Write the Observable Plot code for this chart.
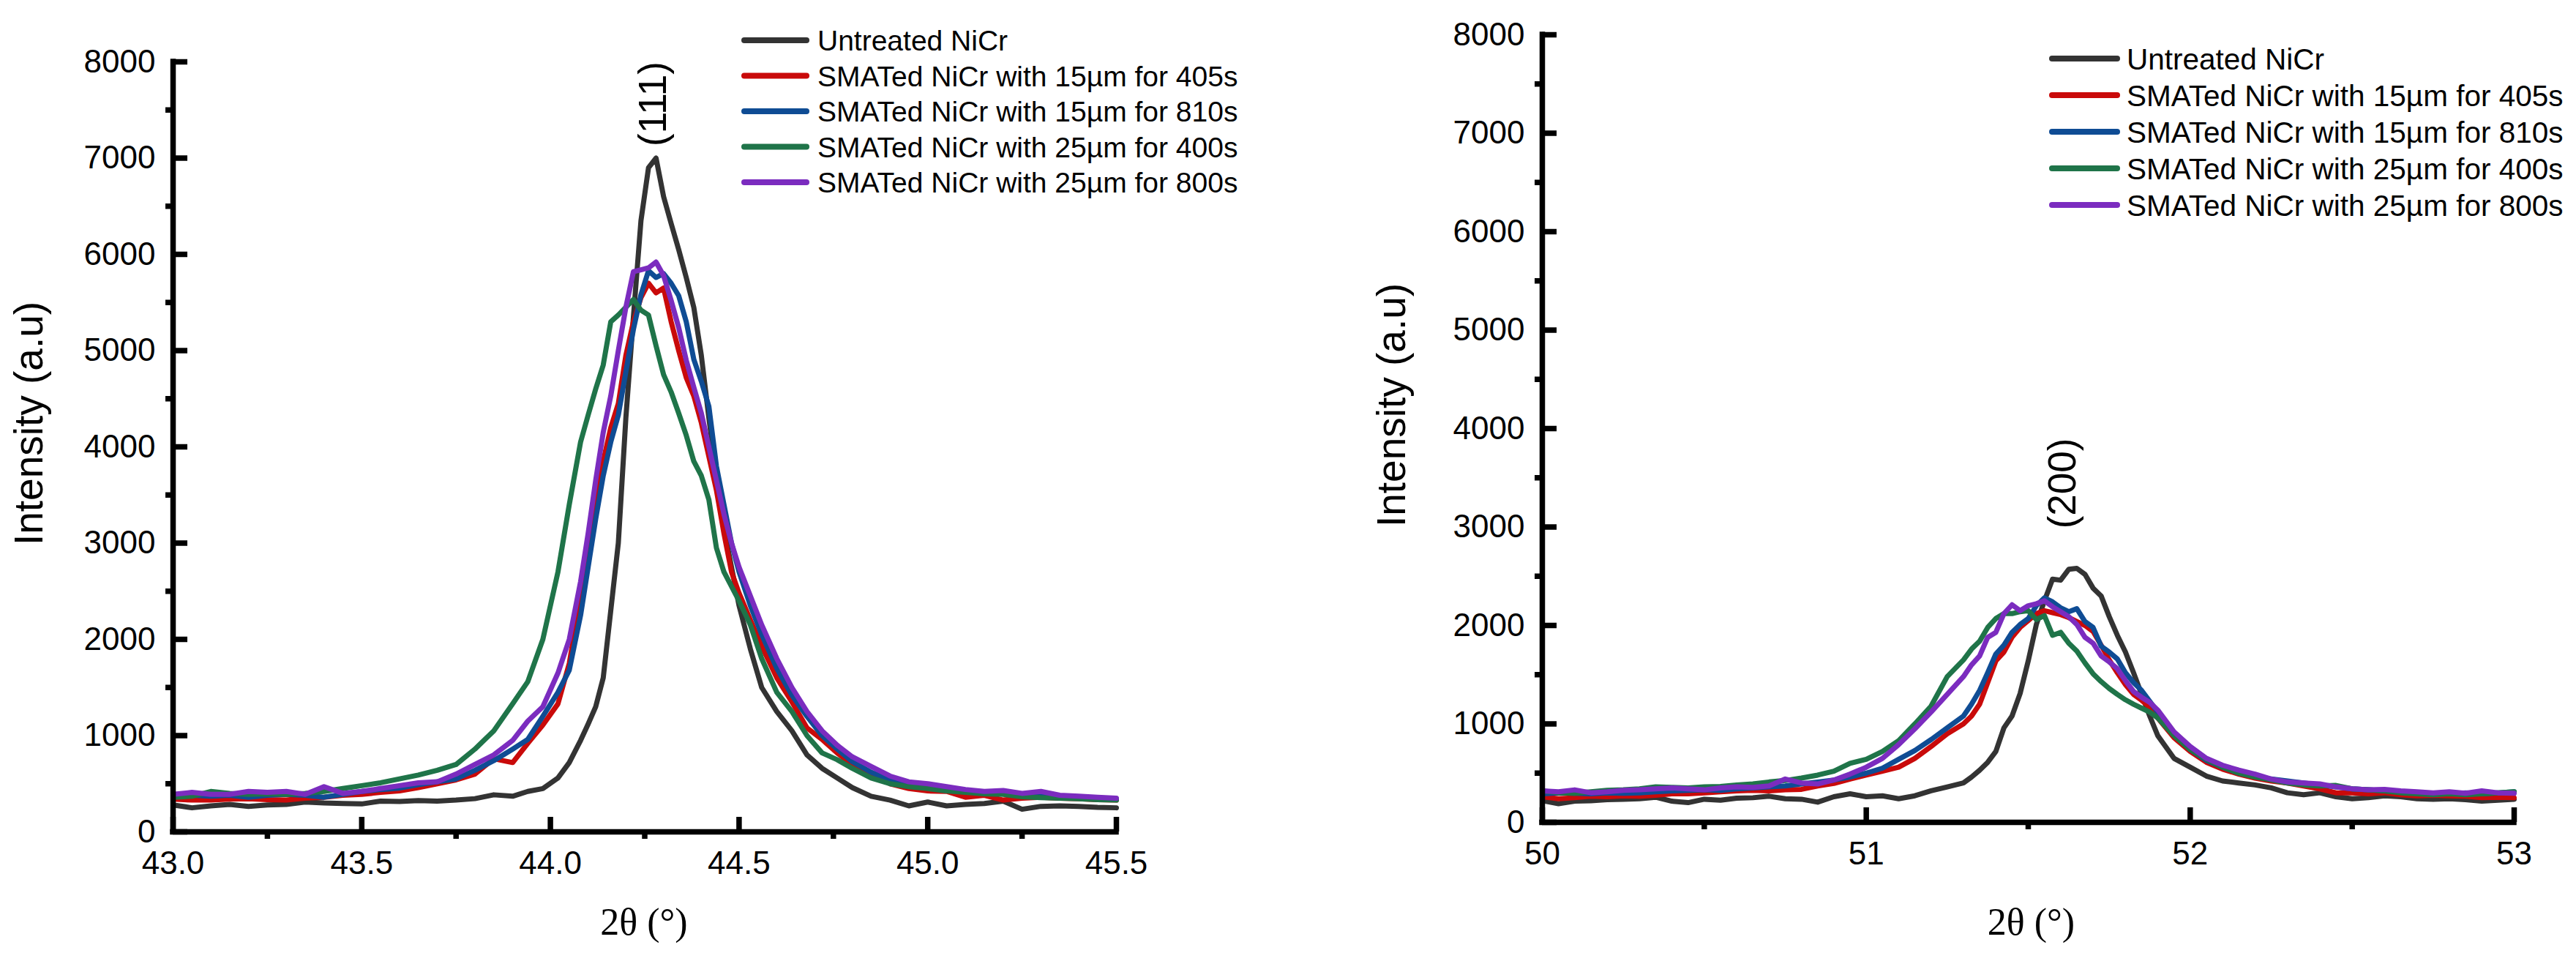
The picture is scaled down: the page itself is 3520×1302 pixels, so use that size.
<!DOCTYPE html>
<html>
<head>
<meta charset="utf-8">
<script src="https://cdn.jsdelivr.net/npm/d3@7"></script>
<script src="https://cdn.jsdelivr.net/npm/@observablehq/plot@0.6"></script>
<style>
html, body { margin: 0; padding: 0; background: #fff; }
#root { position: relative; width: 3520px; height: 1302px; overflow: hidden; background: #fff; }
.panel { position: absolute; top: 0; }
#legend { position: absolute; left: 0; top: 0; pointer-events: none; }
</style>
</head>
<body>
<div id="root"></div>
<script>
// ---------- series ----------
const seriesNames = [
  "Untreated NiCr",
  "SMATed NiCr with 15µm for 405s",
  "SMATed NiCr with 15µm for 810s",
  "SMATed NiCr with 25µm for 400s",
  "SMATed NiCr with 25µm for 800s"
];
const seriesColors = ["#333333", "#c90a0a", "#0f4c94", "#1f7449", "#7b2cbf"];

// ---------- left panel: (111) peak ----------
const leftX = [43.00, 43.05, 43.10, 43.15, 43.20, 43.25, 43.30, 43.35, 43.40, 43.45, 43.50, 43.55, 43.60, 43.65, 43.70, 43.75, 43.80, 43.85, 43.90,
  43.94, 43.98, 44.02, 44.05, 44.08,
  44.10, 44.12, 44.14, 44.16, 44.18, 44.20, 44.22, 44.24, 44.26, 44.28, 44.30, 44.32, 44.34, 44.36, 44.38, 44.40, 44.42, 44.44, 44.46, 44.48, 44.50,
  44.53, 44.56,
  44.60, 44.64, 44.68, 44.72, 44.76, 44.80,
  44.85, 44.90, 44.95, 45.00, 45.05, 45.10, 45.15, 45.20, 45.25, 45.30, 45.35, 45.40, 45.45, 45.50];
const leftUntreated = [280, 250, 270, 285, 265, 280, 285, 310, 300, 295, 290, 320, 315, 325, 320, 330, 345, 385, 370,
  420, 450, 560, 720, 950,
  1120, 1300, 1600, 2300, 3000, 4300, 5350, 6350, 6900, 7000, 6600, 6320, 6050, 5760, 5450, 4950, 4300, 3700, 3150, 2750, 2350,
  1900, 1500,
  1250, 1050, 800, 660, 560, 460,
  370, 330, 270, 310, 270, 285, 295, 320, 235, 265, 270, 265, 255, 250];
const left15um405 = [340, 330, 330, 340, 345, 335, 330, 350, 360, 380, 390, 410, 425, 460, 500, 540, 600, 760, 720,
  920, 1110, 1330, 1750, 2450,
  2900, 3400, 3850, 4200, 4450, 4950, 5300, 5550, 5700, 5600, 5650, 5300, 5000, 4720, 4530, 4250, 3900, 3550, 3100, 2700, 2480,
  2200, 1930,
  1600, 1350, 1080, 960, 820, 700,
  600, 500, 450, 425, 420, 360, 380, 330, 350, 360, 350, 345, 335, 330];
const left15um810 = [390, 380, 370, 380, 360, 380, 390, 380, 360, 390, 420, 440, 455, 490, 520, 550, 640, 740, 860,
  960, 1200, 1450, 1680, 2250,
  2750, 3250, 3700, 4050, 4330, 4780, 5220, 5580, 5830, 5760, 5800, 5700, 5570, 5300, 4910, 4680, 4420, 3800, 3400, 3000, 2700,
  2350, 2050,
  1700, 1420, 1200, 1000, 860, 730,
  620, 540, 480, 470, 450, 420, 400, 410, 380, 370, 360, 350, 345, 340];
const left25um400 = [360, 370, 420, 400, 390, 395, 390, 400, 420, 450, 480, 510, 550, 590, 640, 700, 860, 1050, 1330,
  1560, 2000, 2700, 3400, 4050,
  4330, 4600, 4850, 5300, 5370, 5450, 5530, 5420, 5370, 5050, 4750, 4570, 4350, 4120, 3850, 3700, 3450, 2950, 2700, 2550, 2400,
  2150, 1800,
  1450, 1250, 1000, 820, 750, 660,
  560, 500, 470, 450, 425, 410, 395, 390, 365, 355, 350, 345, 335, 330];
const left25um800 = [390, 410, 390, 390, 420, 410, 420, 390, 470, 400, 420, 450, 480, 510, 520, 600, 700, 800, 950,
  1150, 1300, 1650, 2000, 2600,
  3100, 3650, 4150, 4530, 5000, 5450, 5820, 5840, 5860, 5920, 5780, 5520, 5240, 4900, 4620, 4350, 4000, 3650, 3300, 3000, 2750,
  2450, 2150,
  1800, 1500, 1250, 1050, 900, 780,
  680, 580, 520, 500, 470, 440, 420, 430, 400, 420, 380, 370, 360, 350];

// ---------- right panel: (200) peak ----------
const rightX = [50.00, 50.05, 50.10, 50.15, 50.20, 50.25, 50.30, 50.35, 50.40, 50.45, 50.50, 50.55, 50.60, 50.65, 50.70, 50.75, 50.80, 50.85, 50.90, 50.95, 51.00, 51.05, 51.10, 51.15, 51.20, 51.25, 51.30,
  51.325, 51.35, 51.375, 51.40, 51.425, 51.45, 51.475, 51.50, 51.525, 51.55, 51.575, 51.60, 51.625, 51.65, 51.675, 51.70, 51.725, 51.75, 51.775, 51.80, 51.825, 51.85, 51.875, 51.90,
  51.95, 52.00, 52.05, 52.10, 52.15, 52.20, 52.25, 52.30, 52.35, 52.40, 52.45, 52.50, 52.55, 52.60, 52.65, 52.70, 52.75, 52.80, 52.85, 52.90, 52.95, 53.00];
const rightUntreated = [220, 190, 215, 220, 230, 235, 240, 255, 215, 200, 235, 225, 245, 250, 265, 240, 235, 205, 260, 290, 260, 270, 240, 270, 320, 360, 400,
  460, 530, 610, 720, 960, 1080, 1310, 1640, 2010, 2250, 2470, 2460, 2570, 2580, 2520, 2380, 2300, 2090, 1900, 1730, 1520, 1300, 1080, 880,
  650, 560, 470, 420, 400, 380, 350, 300, 280, 300, 260, 240, 250, 270, 260, 240, 235, 240, 230, 215, 225, 235];
const right15um405 = [260, 240, 250, 265, 260, 270, 265, 275, 290, 290, 300, 310, 320, 325, 320, 330, 335, 370, 395, 440, 480, 520, 560, 650, 770, 900, 1000,
  1080, 1200, 1420, 1640, 1730, 1880, 1980, 2050, 2120, 2150, 2130, 2110, 2080, 2040, 2000, 1940, 1800, 1650, 1520, 1400, 1300, 1240, 1170, 1060,
  860, 720, 610, 540, 490, 450, 420, 400, 370, 340, 300, 300, 290, 300, 280, 270, 275, 270, 265, 250, 255, 250];
const right15um810 = [290, 300, 295, 290, 300, 295, 300, 310, 320, 325, 330, 325, 340, 350, 360, 370, 390, 410, 430, 460, 500, 550, 640, 730, 840, 960, 1080,
  1200, 1340, 1520, 1710, 1800, 1930, 2010, 2070, 2200, 2280, 2240, 2180, 2140, 2170, 2040, 1980, 1790, 1730, 1660, 1520, 1420, 1340, 1230, 1120,
  900, 740, 630, 560, 500, 470, 440, 420, 400, 380, 360, 340, 330, 320, 310, 300, 295, 290, 300, 290, 300, 310];
const right25um400 = [320, 300, 295, 310, 325, 330, 340, 360, 355, 350, 360, 365, 380, 390, 410, 425, 450, 480, 520, 600, 640, 720, 830, 1000, 1180, 1480, 1650,
  1760, 1840, 1980, 2070, 2120, 2120, 2140, 2150, 2060, 2100, 1900, 1930, 1820, 1740, 1620, 1510, 1430, 1360, 1300, 1245, 1200, 1160, 1120, 1060,
  880, 740, 640, 560, 500, 460, 430, 400, 380, 370, 375, 340, 330, 320, 300, 290, 280, 290, 280, 290, 300, 310];
const right25um800 = [320, 310, 330, 300, 310, 325, 330, 340, 350, 340, 330, 350, 360, 355, 370, 440, 400, 390, 430, 490, 560, 650, 790, 950, 1120, 1300, 1480,
  1600, 1690, 1880, 1930, 2120, 2210, 2150, 2200, 2220, 2250, 2190, 2140, 2090, 2010, 1880, 1820, 1690, 1630, 1560, 1440, 1330, 1270, 1220, 1140,
  920, 770, 650, 580, 530, 490, 440, 410, 400, 390, 360, 340, 330, 335, 320, 310, 300, 310, 295, 320, 300, 295];

// ---------- axes ----------
const yDomain = [0, 8000];
const yTicks = [0, 1000, 2000, 3000, 4000, 5000, 6000, 7000, 8000];
const yMinorTicks = [500, 1500, 2500, 3500, 4500, 5500, 6500, 7500];
const leftDomain = [43.0, 45.5];
const leftXTicks = [43.0, 43.5, 44.0, 44.5, 45.0, 45.5];
const leftXMinor = [43.25, 43.75, 44.25, 44.75, 45.25];
const rightDomain = [50, 53];
const rightXTicks = [50, 51, 52, 53];
const rightXMinor = [50.5, 51.5, 52.5];
const xLabel = "2θ (°)";
const yLabel = "Intensity (a.u)";
const leftPeakLabel = "(111)";
const rightPeakLabel = "(200)";

const SANS = "'Liberation Sans', Arial, Helvetica, sans-serif";
const SERIF = "'Liberation Serif', 'Times New Roman', serif";

function panel(cfg) {
  const table = [];
  cfg.ys.forEach((vals, s) => vals.forEach((v, i) => table.push({series: seriesNames[s], x: cfg.xs[i], y: v})));
  const base = cfg.ys[0];
  const pk = d3.maxIndex(base);
  const peak = [{x: cfg.xs[pk], y: base[pk], label: cfg.peakLabel}];
  const L = cfg.layout;
  return Plot.plot({
    width: 1760,
    height: 1302,
    marginLeft: L.ml, marginRight: L.mr, marginTop: L.mt, marginBottom: L.mb,
    x: {domain: cfg.xDomain},
    y: {domain: yDomain},
    color: {domain: seriesNames, range: seriesColors},
    style: {fontFamily: SANS, fontSize: "44px", background: "transparent", overflow: "visible", color: "#000"},
    marks: [
      Plot.line(table, {x: "x", y: "y", z: "series", stroke: "series", strokeWidth: 7, strokeLinejoin: "round", strokeLinecap: "round"}),
      Plot.ruleX([cfg.xDomain[0]], {y1: yDomain[0], y2: yDomain[1], stroke: "#000", strokeWidth: 7.5, strokeLinecap: "square"}),
      Plot.ruleY([yDomain[0]], {x1: cfg.xDomain[0], x2: cfg.xDomain[1], stroke: "#000", strokeWidth: 7.5, strokeLinecap: "square"}),
      Plot.axisY(yTicks, {tickSize: -20, strokeWidth: 7.5, stroke: "#000", fill: "none", label: null}),
      Plot.axisY(yMinorTicks, {tickSize: 10, strokeWidth: 7.5, stroke: "#000", fill: "none", label: null}),
      Plot.axisY(yTicks, {tickSize: 0, tickPadding: 24, fontSize: 44, fill: "#000", tickFormat: d => String(d), label: null}),
      Plot.axisX(cfg.xTicks, {tickSize: -20, strokeWidth: 7.5, stroke: "#000", fill: "none", label: null}),
      Plot.axisX(cfg.xMinor, {tickSize: 10, strokeWidth: 7.5, stroke: "#000", fill: "none", label: null}),
      Plot.axisX(cfg.xTicks, {tickSize: 0, tickPadding: 26, fontSize: 44, fill: "#000", tickFormat: cfg.xFormat, label: null}),
      Plot.text(peak, {x: "x", y: "y", text: "label", rotate: -90, dx: L.peakDx, dy: L.peakDy, fontSize: 53, fontFamily: SANS, textAnchor: "middle", lineAnchor: "middle", fill: "#000"}),
      Plot.text([yLabel], {text: d => d, frameAnchor: "left", rotate: -90, dx: L.yLabDx, dy: L.yLabDy, fontSize: 55, fontFamily: SANS, textAnchor: "middle", lineAnchor: "middle", fill: "#000"}),
      Plot.text([xLabel], {text: d => d, frameAnchor: "bottom", dx: L.xLabDx, dy: L.xLabDy, fontSize: 52, fontFamily: SERIF, textAnchor: "middle", lineAnchor: "middle", fill: "#000"})
    ]
  });
}

const root = document.getElementById("root");

const leftChart = panel({
  xs: leftX,
  ys: [leftUntreated, left15um405, left15um810, left25um400, left25um800],
  xDomain: leftDomain, xTicks: leftXTicks, xMinor: leftXMinor,
  xFormat: d => d.toFixed(1),
  peakLabel: leftPeakLabel,
  layout: {ml: 236, mr: 235, mt: 84, mb: 166, peakDx: -3, peakDy: -74, yLabDx: -196, yLabDy: -32, xLabDx: -1, xLabDy: 124}
});
const rightChart = panel({
  xs: rightX,
  ys: [rightUntreated, right15um405, right15um810, right25um400, right25um800],
  xDomain: rightDomain, xTicks: rightXTicks, xMinor: rightXMinor,
  xFormat: d => String(d),
  peakLabel: rightPeakLabel,
  layout: {ml: 347, mr: 85, mt: 47, mb: 179, peakDx: -19, peakDy: -116, yLabDx: -205, yLabDy: -32, xLabDx: 4, xLabDy: 137}
});

const lw = document.createElement("div"); lw.className = "panel"; lw.style.left = "0px"; lw.appendChild(leftChart); root.appendChild(lw);
const rw = document.createElement("div"); rw.className = "panel"; rw.style.left = "1760px"; rw.appendChild(rightChart); root.appendChild(rw);

// ---------- legends ----------
const legendSpecs = [
  {x1: 1017, x2: 1102, tx: 1117, y0: 55, step: 48.5, fs: 39},
  {x1: 2804, x2: 2893, tx: 2906, y0: 80, step: 50, fs: 40.5}
];
const leg = d3.select(root).append("svg").attr("id", "legend").attr("width", 3520).attr("height", 1302);
legendSpecs.forEach(spec => {
  const g = leg.append("g");
  seriesNames.forEach((name, i) => {
    const y = spec.y0 + i * spec.step;
    g.append("line").attr("x1", spec.x1).attr("x2", spec.x2).attr("y1", y).attr("y2", y)
      .attr("stroke", seriesColors[i]).attr("stroke-width", 8).attr("stroke-linecap", "round");
    g.append("text").attr("x", spec.tx).attr("y", y + spec.fs * 0.36)
      .attr("font-family", SANS).attr("font-size", spec.fs).attr("fill", "#000").text(name);
  });
});
</script>
</body>
</html>
